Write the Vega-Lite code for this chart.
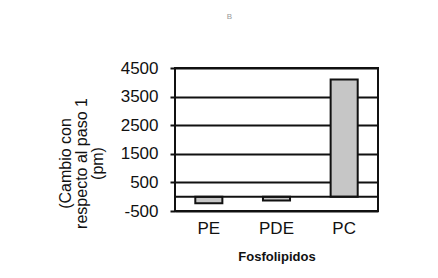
{
  "$schema": "https://vega.github.io/schema/vega-lite/v6.json",
  "width": 203,
  "height": 143,
  "autosize": "none",
  "padding": {"left": 175, "top": 68, "right": 60, "bottom": 67},
  "background": "white",
  "title": {"text": "B", "fontSize": 8, "color": "#999999", "font": "Liberation Sans", "fontWeight": "normal", "dx": -47, "offset": 38, "anchor": "middle"},
  "layer": [
    {
      "data": {"values": [
        {"Fosfolipido": "PE", "valor": -230},
        {"Fosfolipido": "PDE", "valor": -130},
        {"Fosfolipido": "PC", "valor": 4100}
      ]},
      "mark": {"type": "bar", "fill": "#c6c6c6", "stroke": "#111111", "strokeWidth": 2},
      "encoding": {
        "x": {
          "field": "Fosfolipido", "type": "nominal", "sort": ["PE", "PDE", "PC"],
          "scale": {"paddingInner": 0.6, "paddingOuter": 0.3},
          "axis": {
            "title": "Fosfolipidos", "titleFont": "Liberation Sans", "titleFontSize": 13, "titleFontWeight": "bold", "titleColor": "#111111", "titlePadding": 14,
            "labelFont": "Liberation Sans", "labelFontSize": 17, "labelColor": "#111111", "labelAngle": 0, "labelPadding": 9,
            "ticks": false, "domain": false
          }
        },
        "y": {
          "field": "valor", "type": "quantitative",
          "scale": {"domain": [-500, 4500], "nice": false, "zero": false},
          "axis": {
            "values": [-500, 500, 1500, 2500, 3500, 4500],
            "tickCount": 12,
            "labelExpr": "'' + datum.value",
            "labelOverlap": false,
            "labelFlush": false,
            "title": ["(Cambio con", "respecto al paso 1", "(pm)"],
            "titleFont": "Liberation Sans", "titleFontSize": 16, "titleFontWeight": "normal", "titleColor": "#111111", "titleLineHeight": 16, "titlePadding": 15,
            "titleY": 95,
            "labelFont": "Liberation Sans", "labelFontSize": 17, "labelColor": "#111111", "labelPadding": 12,
            "tickSize": 5, "tickColor": "#111111", "tickWidth": 2,
            "domain": false,
            "grid": true, "gridColor": "#111111", "gridWidth": 2
          }
        }
      }
    },
    {
      "data": {"values": [{"nivel": 0}]},
      "mark": {"type": "rule", "color": "#111111", "strokeWidth": 2},
      "encoding": {"y": {"field": "nivel", "type": "quantitative"}}
    }
  ],
  "config": {"view": {"stroke": "#111111", "strokeWidth": 2}}
}
